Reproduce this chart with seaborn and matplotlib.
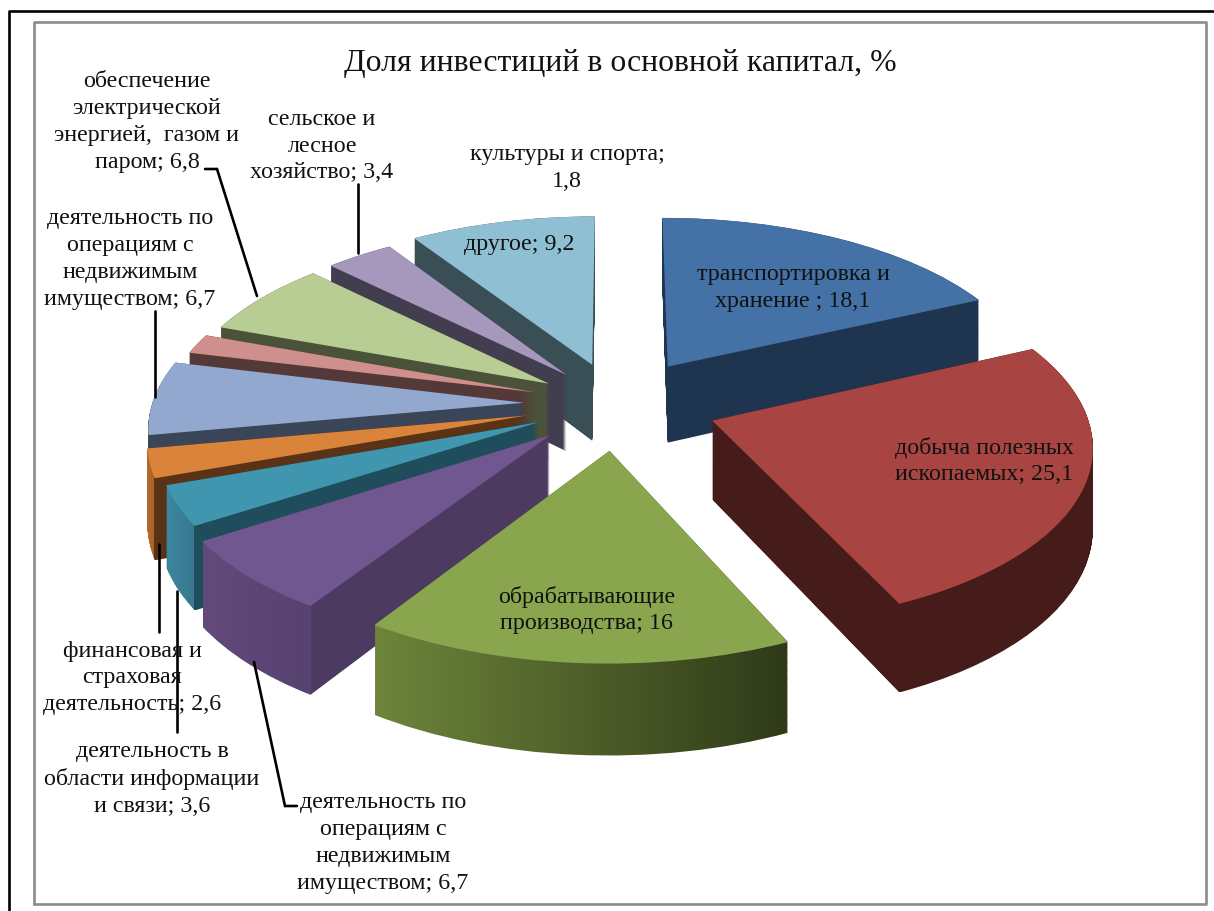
import numpy as np
import matplotlib
matplotlib.use("Agg")
import matplotlib.pyplot as plt
import seaborn as sns
from matplotlib.colors import LinearSegmentedColormap
from matplotlib.path import Path
from matplotlib.transforms import Affine2D, Transform

# Dane
title = "Доля инвестиций в основной капитал, %"
names = ["транспортировка и\nхранение ", "добыча полезных\nископаемых", "обрабатывающие\nпроизводства",
         "деятельность по\nоперациям с\nнедвижимым\nимуществом", "деятельность в\nобласти информации\nи связи",
         "финансовая и\nстраховая\nдеятельность", "деятельность по\nоперациям с\nнедвижимым\nимуществом",
         "культуры и спорта;\n", "обеспечение\nэлектрической\nэнергией,  газом и\nпаром", "сельское и\nлесное\nхозяйство",
         "другое"]
values = [18.1, 25.1, 16, 6.7, 3.6, 2.6, 6.7, 1.8, 6.8, 3.4, 9.2]

# Kolory: wierzch, luk jasny, luk ciemny, sciana ciecia
top_colors = ["#4472a6", "#a84442", "#89a54e", "#71578f", "#4096af", "#d9833b", "#92a8cf", "#ce8f8d", "#b7cd94", "#a598bc", "#8fbfd2"]
wall_light = ["#1f344f", "#451c1a", "#6e853b", "#634a7c", "#3c879f", "#b56a2c", "#3a4558", "#553838", "#4a533a", "#433d50", "#3a4e56"]
wall_dark = ["#1f344f", "#451c1a", "#2f3a18", "#574270", "#36788f", "#a8642a", "#3a4558", "#553838", "#4a533a", "#433d50", "#3a4e56"]
wall_cut = ["#1f344f", "#451c1a", "#2f3a18", "#4d3a60", "#1f4d5c", "#5a3216", "#3a4558", "#553838", "#4a533a", "#433d50", "#3a4e56"]
explode = [0.26, 0.27, 0.26, 0.25, 0.23, 0.25, 0.25, 0.23, 0.22, 0.22, 0.24]

# Polozenie opisow w pikselach: x srodka, y srodka
label_pos = [(793, 288), (984, 461), (587, 610), (383, 843), (152, 779), (132, 678), (130, 259), (567, 168), (147, 122), (322, 146), (519, 245)]
leaders = [[(205, 170), (217, 170), (257, 297)], [(358, 185), (358, 254)], [(155, 312), (155, 398)],
           [(159, 545), (159, 633)], [(177, 592), (177, 733)], [(254, 663), (285, 807), (297, 807)]]

W, H = 1214, 912
cx, cy = 617, 405
rx, ry = 372, 175
persp = 0.12
depth = 78 / ry


class Tilt(Transform):
    # perspektywa: tyl mniejszy, przod wiekszy
    input_dims = 2
    output_dims = 2

    def __init__(self, drop=0.0):
        super().__init__()
        self.drop = drop

    def transform_non_affine(self, xy):
        xy = np.asarray(xy, dtype=float)
        k = 1 / (1 + persp * xy[:, 1])
        return np.column_stack([xy[:, 0] * k, (xy[:, 1] - self.drop) * k])


sns.set_theme(style="white")
plt.rcParams["font.family"] = ["Liberation Serif", "DejaVu Serif"]

fig = plt.figure(figsize=(W / 100, H / 100), dpi=100)
ax = fig.add_axes([0, 0, 1, 1])
px = Affine2D().scale(1 / W, -1 / H).translate(0, 1) + fig.transFigure

wedges, _ = ax.pie(values, explode=explode, colors=sns.color_palette(top_colors), startangle=90,
                   counterclock=False, wedgeprops={"linewidth": 0})
ax.set_aspect("auto")
ax.set_autoscale_on(False)

# Od tylu do przodu
mid = [np.sin(np.radians((w.theta1 + w.theta2) / 2)) for w in wedges]
order = np.argsort(mid)[::-1]

for rank, i in enumerate(order):
    w = wedges[i]
    base = w.get_patch_transform().transform_path(w.get_path())
    layers = [Tilt(d).transform_path(base) for d in np.linspace(0, depth, 80)]
    wall = Path.make_compound_path(*layers)
    x0, y0 = wall.vertices.min(axis=0)
    x1, y1 = wall.vertices.max(axis=0)
    # gdzie konczy sie luk, a zaczyna sciana ciecia
    th = np.radians([w.theta1, w.theta2])
    corners = np.column_stack([w.center[0] + np.cos(th), w.center[1] + np.sin(th)])
    arc_end = Tilt().transform_non_affine(corners)[:, 0].max()
    f = min(max((arc_end - x0) / (x1 - x0), 0.01), 0.999)
    cmap = LinearSegmentedColormap.from_list(
        "wall", [(0, wall_light[i]), (f, wall_dark[i]), (f, wall_cut[i]), (1, wall_cut[i])], N=1024)
    im = ax.imshow(np.linspace(0, 1, 1024).reshape(1, -1), cmap=cmap, extent=(x0, x1, y0, y1),
                   aspect="auto", zorder=2 * rank + 1, interpolation="nearest")
    im.set_clip_path(wall, ax.transData)
    w.set_transform(Tilt() + ax.transData)
    w.set_zorder(2 * rank + 2)

ax.set_xlim(-cx / rx, (W - cx) / rx)
ax.set_ylim(-(H - cy) / ry, cy / ry)
ax.axis("off")

# Ramki
ax.plot([9, 9, W], [H, 12, 12], color="black", lw=1.9, transform=px, clip_on=False, zorder=50)
ax.plot([34, 34, 1206, 1206, 34], [905, 23, 23, 905, 905], color="#8c8c8c", lw=1.9, transform=px, zorder=50)

# Linie odniesienia
for pts in leaders:
    xs, ys = zip(*pts)
    ax.plot(xs, ys, color="black", lw=1.9, transform=px, zorder=60, solid_joinstyle="miter")

# Opisy
for name, val, (x, y) in zip(names, values, label_pos):
    num = str(val).replace(".", ",")
    text = name + num if name.endswith("\n") else f"{name}; {num}"
    ax.text(x, y, text, transform=px, ha="center", va="center", fontsize=17.3, color="#111111",
            linespacing=1.37, zorder=70)

ax.text(620, 63, title, transform=px, ha="center", va="center", fontsize=22.9, color="#111111", zorder=70)

fig.savefig("out.png", dpi=100, facecolor="white")
